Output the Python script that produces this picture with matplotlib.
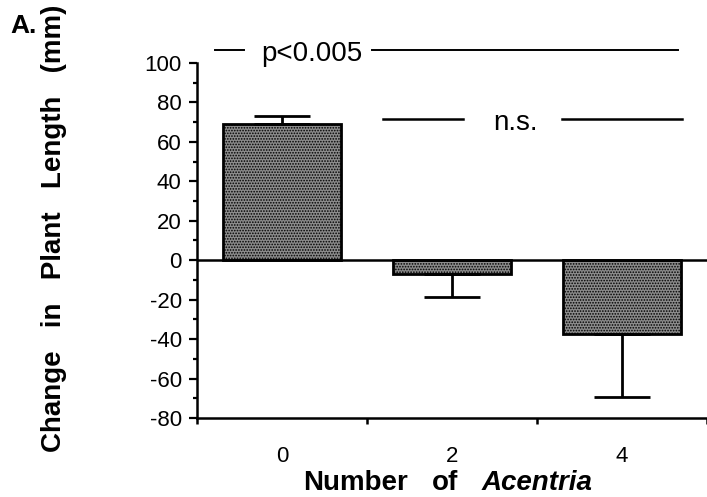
import matplotlib.pyplot as plt
import numpy as np
from matplotlib.ticker import MultipleLocator, FixedLocator

plt.rcParams['font.family'] = ['Liberation Sans', 'DejaVu Sans']
plt.rcParams['axes.unicode_minus'] = False
plt.rcParams['hatch.linewidth'] = 0.8
plt.rcParams['hatch.color'] = 'black'

# Data
groups = ['0', '2', '4']
change = [69, -7, -37.5]
err_low = [0, 11.5, 32]
err_high = [4, 0, 0]

fig = plt.figure(figsize=(7.07, 4.97), dpi=100)
ax = fig.add_axes([197 / 707, 1 - 418 / 497, 510 / 707, 355 / 497])

x = np.arange(len(groups))
ax.bar(x, change, width=0.69, facecolor='#8c8c8c', edgecolor='black',
       linewidth=2.0, hatch='......', zorder=2)
ax.errorbar(x, change, yerr=[err_low, err_high], fmt='none', ecolor='black',
            elinewidth=2.0, capsize=20, capthick=2.0, zorder=3)
ax.axhline(0, color='black', lw=1.8, zorder=4)

ax.set_xlim(-0.5, 2.5)
ax.set_ylim(-80, 100)

# spines
for s in ['top', 'right']:
    ax.spines[s].set_visible(False)
for s in ['left', 'bottom']:
    ax.spines[s].set_linewidth(1.8)

ax.yaxis.set_major_locator(MultipleLocator(20))
ax.yaxis.set_minor_locator(MultipleLocator(10))
ax.tick_params(axis='y', which='major', length=6, width=1.6, labelsize=16, pad=5)
ax.tick_params(axis='y', which='minor', length=3, width=1.6)

ax.set_xticks(x)
ax.set_xticklabels(groups)
ax.xaxis.set_minor_locator(FixedLocator([-0.5, 0.5, 1.5, 2.5]))
ax.tick_params(axis='x', which='major', length=0, labelsize=16, pad=20)
ax.tick_params(axis='x', which='minor', length=4, width=1.8)

# significance annotations
ax.plot([-0.394, -0.224], [106.6, 106.6], color='black', lw=1.4, clip_on=False)
ax.text(0.173, 101, 'p<0.005', ha='center', va='baseline', fontsize=20)
ax.plot([0.529, 2.33], [106.6, 106.6], color='black', lw=1.4, clip_on=False)

ax.plot([0.594, 1.065], [71.6, 71.6], color='black', lw=1.8, clip_on=False)
ax.text(1.376, 66, 'n.s.', ha='center', va='baseline', fontsize=20)
ax.plot([1.647, 2.353], [71.6, 71.6], color='black', lw=1.8, clip_on=False)

# axis labels
fig.text(54 / 707, 1 - 228 / 497, 'Change   in   Plant   Length   (mm)',
         rotation=90, ha='center', va='center', fontsize=20, fontweight='bold')
fig.text(303 / 707, 1 - 490 / 497, 'Number', ha='left', va='baseline',
         fontsize=20, fontweight='bold')
fig.text(432 / 707, 1 - 490 / 497, 'of', ha='left', va='baseline',
         fontsize=20, fontweight='bold')
fig.text(482 / 707, 1 - 490 / 497, 'Acentria', ha='left', va='baseline',
         fontsize=20, fontweight='bold', fontstyle='italic')

fig.text(10 / 707, 1 - 33 / 497, 'A.', ha='left', va='baseline',
         fontsize=19, fontweight='bold')

plt.savefig('out.png', dpi=100)
